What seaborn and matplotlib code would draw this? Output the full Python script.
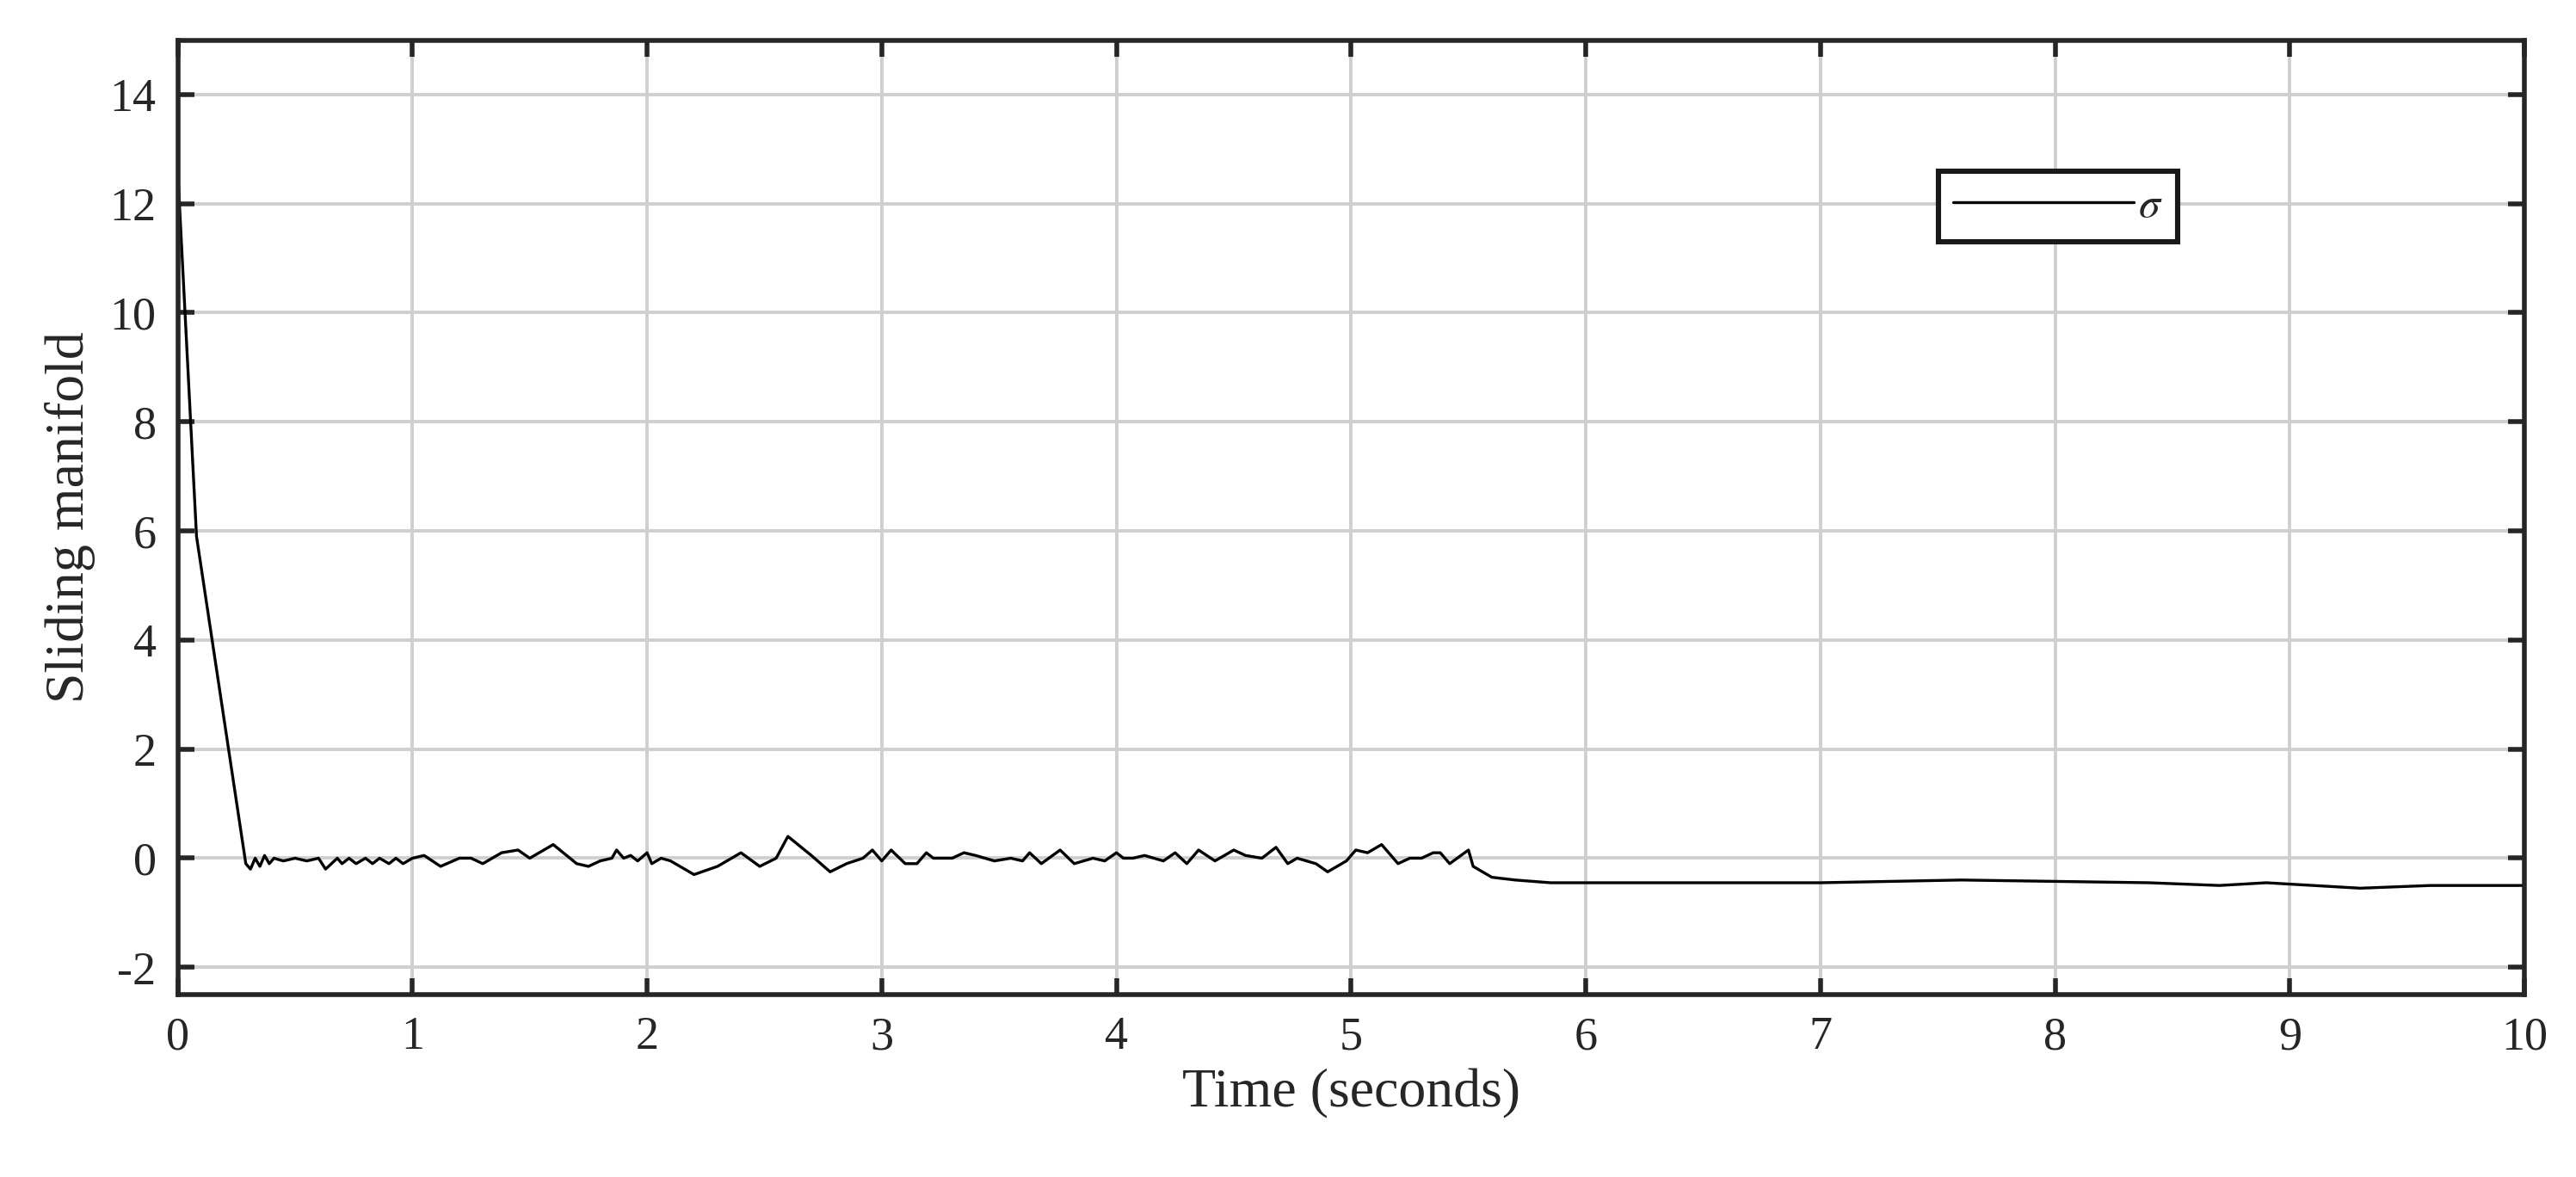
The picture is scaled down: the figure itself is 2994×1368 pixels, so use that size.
import numpy as np
import pandas as pd
import matplotlib.pyplot as plt
import seaborn as sns

# values
time = [0, 0.08, 0.29, 0.31, 0.33, 0.35, 0.37, 0.39, 0.41, 0.45, 0.5, 0.55, 0.6, 0.63, 0.68, 0.7,
        0.73, 0.76, 0.8, 0.83, 0.86, 0.9, 0.93, 0.96, 1.0, 1.05, 1.12, 1.2, 1.25, 1.3, 1.38, 1.45,
        1.5, 1.6, 1.7, 1.75, 1.8, 1.85, 1.87, 1.9, 1.93, 1.96, 2.0, 2.02, 2.06, 2.1, 2.2, 2.3, 2.4,
        2.48, 2.55, 2.6, 2.7, 2.78, 2.85, 2.92, 2.96, 3.0, 3.04, 3.1, 3.15, 3.19, 3.22, 3.3, 3.35,
        3.4, 3.48, 3.55, 3.6, 3.63, 3.68, 3.76, 3.82, 3.9, 3.95, 4.0, 4.03, 4.07, 4.12, 4.2, 4.25,
        4.3, 4.35, 4.42, 4.5, 4.55, 4.62, 4.68, 4.73, 4.77, 4.85, 4.9, 4.98, 5.02, 5.07, 5.13, 5.2,
        5.25, 5.3, 5.35, 5.38, 5.42, 5.5, 5.52, 5.6, 5.7, 5.85, 7.0, 7.6, 8.4, 8.7, 8.9, 9.3, 9.6, 10]
sigma = [12.6, 5.9, -0.1, -0.2, 0, -0.15, 0.05, -0.1, 0, -0.05, 0, -0.05, 0, -0.2, 0, -0.1,
         0, -0.1, 0, -0.1, 0, -0.1, 0, -0.1, 0, 0.05, -0.15, 0, 0, -0.1, 0.1, 0.15,
         0, 0.25, -0.1, -0.15, -0.05, 0, 0.15, 0, 0.05, -0.05, 0.1, -0.1, 0, -0.05, -0.3, -0.15, 0.1,
         -0.15, 0, 0.4, 0.05, -0.25, -0.1, 0, 0.15, -0.05, 0.15, -0.1, -0.1, 0.1, 0, 0, 0.1,
         0.05, -0.05, 0, -0.05, 0.1, -0.1, 0.15, -0.1, 0, -0.05, 0.1, 0, 0, 0.05, -0.05, 0.1,
         -0.1, 0.15, -0.05, 0.15, 0.05, 0, 0.2, -0.1, 0, -0.1, -0.25, -0.05, 0.15, 0.1, 0.25, -0.1,
         0, 0, 0.1, 0.1, -0.1, 0.15, -0.15, -0.35, -0.4, -0.45, -0.45, -0.4, -0.45, -0.5, -0.45, -0.55, -0.5, -0.5]

df = pd.DataFrame({"Time": time, "sigma": sigma})

sns.set_style("white")
plt.rcParams['font.family'] = ['Liberation Serif', 'DejaVu Serif']
plt.rcParams['mathtext.fontset'] = 'stix'

fig = plt.figure(figsize=(14.97, 6.84), dpi=200)
ax = fig.add_axes([0.069, 0.155, 0.911, 0.811])

sns.lineplot(data=df, x="Time", y="sigma", ax=ax, color="black", linewidth=1.2, label=r"$\sigma$")

ax.set_xlim(0, 10)
ax.set_ylim(-2.5, 15)
ax.set_xticks(range(0, 11))
ax.set_yticks(range(-2, 15, 2))
ax.set_yticklabels([str(v) for v in range(-2, 15, 2)])
ax.grid(True, color="#cfcfcf", linewidth=1.4)
ax.tick_params(direction="in", length=7, width=2, labelsize=19.5, top=True, right=True,
               bottom=True, left=True, colors="#262626", pad=9)
for s in ax.spines.values():
    s.set_linewidth(2)
    s.set_color("#262626")
ax.set_xlabel("Time (seconds)", fontsize=23, color="#262626", labelpad=4)
ax.set_ylabel("Sliding manifold", fontsize=23, color="#262626", labelpad=6)

leg = ax.legend(loc="upper left", bbox_to_anchor=(0.741, 0.885), fontsize=18, frameon=True,
                fancybox=False, handlelength=4.2, borderpad=0.35, handletextpad=0.1)
leg.get_frame().set_edgecolor("#1a1a1a")
leg.get_frame().set_linewidth(2.2)
leg.get_frame().set_alpha(1)

fig.savefig("out.png", dpi=200)
